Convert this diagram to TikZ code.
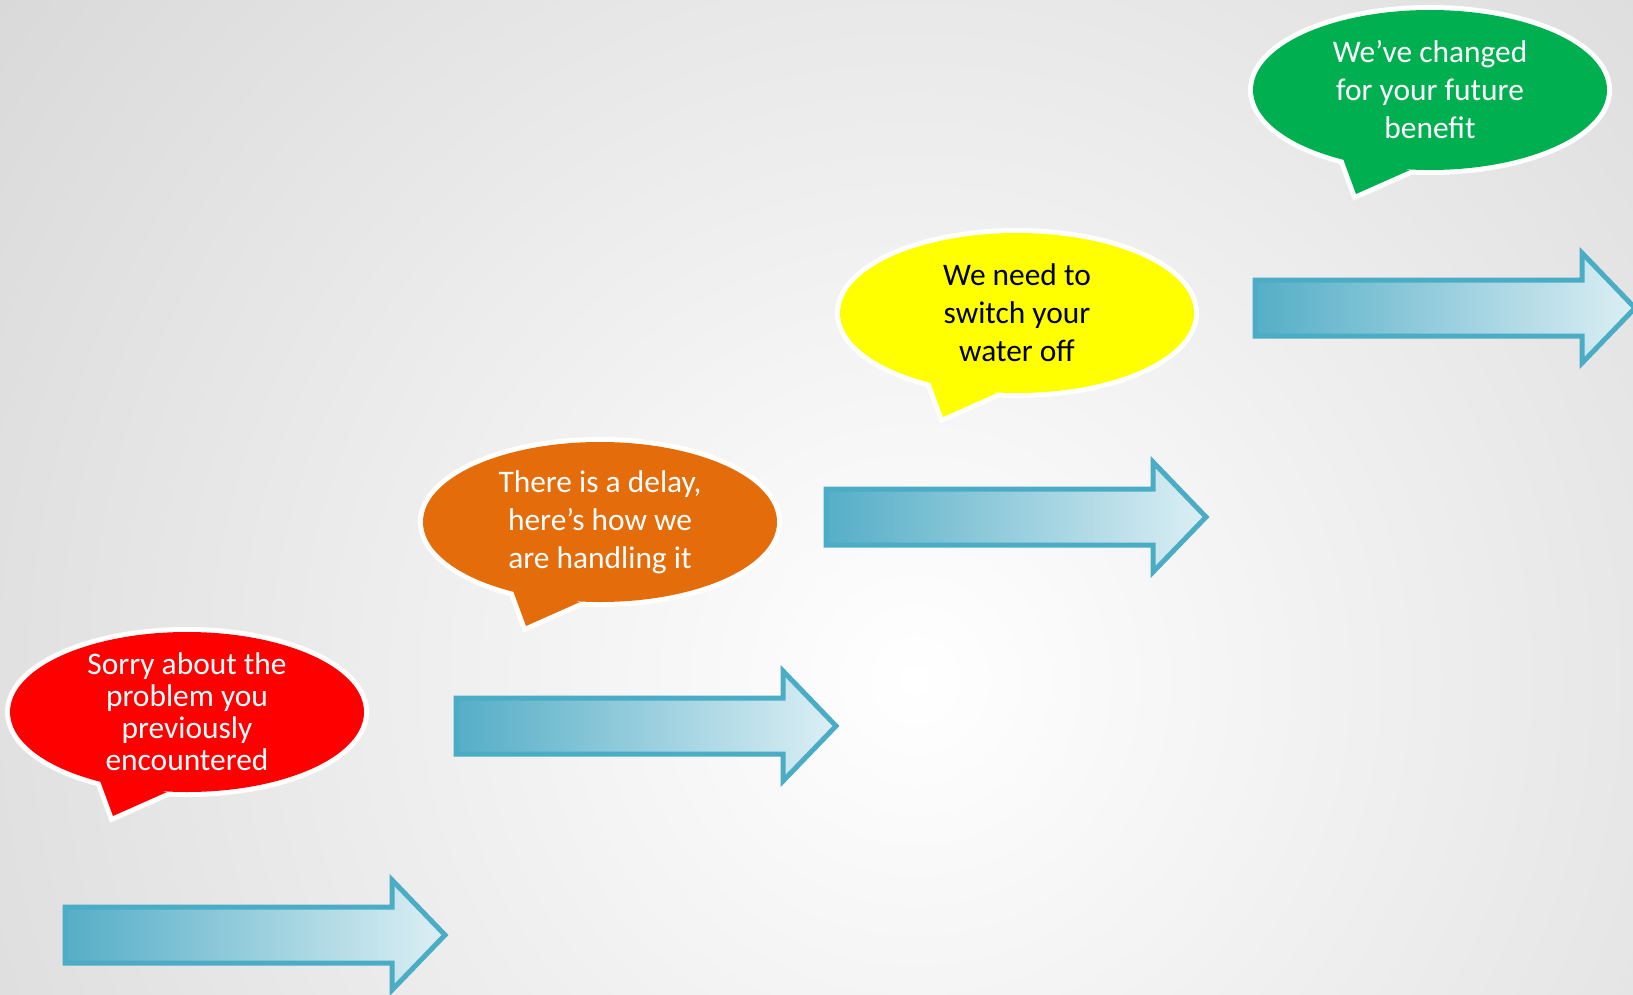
\documentclass[tikz,border=0pt]{standalone}
\usepackage{fontspec}
\setmainfont{Carlito}
\usepackage{tikz}
\definecolor{arrowline}{HTML}{4BACC6}
\definecolor{arrowdark}{HTML}{55AEC7}
\definecolor{arrowlight}{HTML}{DCEFF4}
\definecolor{bred}{HTML}{FF0000}
\definecolor{borange}{HTML}{E46C0A}
\definecolor{byellow}{HTML}{FFFF00}
\definecolor{bgreen}{HTML}{00B050}
\def\tail{+(-88,66) -- +(-74,104) -- +(-20,80) -- cycle}
\def\bubble{ellipse [x radius=177, y radius=80]}
\def\arrowpath{+(0,-28) -- +(327,-28) -- +(327,-55) -- +(380,0) -- +(327,55) -- +(327,28) -- +(0,28) -- cycle}

\begin{document}
\begin{tikzpicture}[x=0.5pt, y=-0.5pt,
    bubbletext/.style={align=center, font=\fontsize{15.7}{19}\selectfont}]
        \useasboundingbox (0,0) rectangle (1633,995);
        \begin{scope}
          \clip (0,0) rectangle (1633,995);
          \shade[inner color=white, outer color=black!15] (915,680) circle (1150);
        \end{scope}
        \coordinate (a1) at (65,935);
        \coordinate (a2) at (456,726);
        \coordinate (a3) at (826,517);
        \coordinate (a4) at (1255,308);
        \coordinate (sorry) at (187,712);
        \coordinate (delay) at (600,522);
        \coordinate (water) at (1017,313);
        \coordinate (benefit) at (1430,90);
        \foreach \a in {a1,a2,a3,a4}{
        \shadedraw[left color=arrowdark, right color=arrowlight, draw=arrowline, line width=2.5pt, line join=miter] (\a) \arrowpath;
        }
        \foreach \c/\col in {sorry/bred, delay/borange, water/byellow, benefit/bgreen}{
        \filldraw[white, line width=5pt] (\c) \bubble;
        \filldraw[white, line width=5pt, line join=miter] (\c) \tail;
        \fill[\col] (\c) \bubble;
        \fill[\col] (\c) \tail;
        }
        \node[bubbletext, text=white, font=\fontsize{15.7}{16}\selectfont] (sorrytext) at (sorry) {Sorry about the\\problem you\\previously\\encountered};
        \node[bubbletext, text=white] (delaytext) at (delay) {There is a delay,\\here’s how we\\are handling it};
        \node[bubbletext, text=black] (watertext) at (water) {We need to\\switch your\\water off};
        \node[bubbletext, text=white] (benefittext) at (benefit) {We’ve changed\\for your future\\benefit};
      \end{tikzpicture}
\end{document}
